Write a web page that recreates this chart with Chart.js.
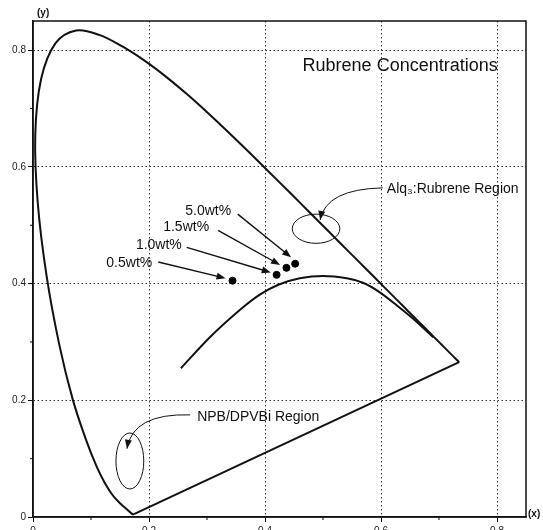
<!DOCTYPE html>
<html>
<head>
<meta charset="utf-8">
<script src="https://cdn.jsdelivr.net/npm/chart.js@4.4.0/dist/chart.umd.min.js"></script>
<style>
  html, body { margin: 0; padding: 0; background: #fff; }
</style>
</head>
<body>
<canvas id="cie" width="543" height="530"></canvas>
<script>
// spectral locus (CIE 1931), 380 nm -> 700 nm
const locusX = [0.1741, 0.1733, 0.1714, 0.1689, 0.1644, 0.1611,
  0.1566, 0.1510, 0.1440, 0.1355, 0.1241, 0.1096, 0.0913, 0.0687, 0.0454, 0.0235,
  0.0082, 0.0039, 0.0139, 0.0389, 0.0743, 0.1142, 0.1547, 0.1929, 0.2296, 0.2658,
  0.3016, 0.3373, 0.3731, 0.4087, 0.4441, 0.4788, 0.5125, 0.5448, 0.5752, 0.6029,
  0.6270, 0.6482, 0.6658, 0.6801, 0.6915, 0.7006, 0.7079, 0.7190, 0.7260, 0.7300,
  0.7347];
const locusY = [0.0050, 0.0048, 0.0051, 0.0069, 0.0109, 0.0138,
  0.0177, 0.0227, 0.0297, 0.0399, 0.0578, 0.0868, 0.1327, 0.2007, 0.2950, 0.4127,
  0.5384, 0.6548, 0.7502, 0.8120, 0.8338, 0.8262, 0.8059, 0.7816, 0.7543, 0.7243,
  0.6923, 0.6589, 0.6245, 0.5896, 0.5547, 0.5202, 0.4866, 0.4544, 0.4242, 0.3965,
  0.3725, 0.3514, 0.3340, 0.3197, 0.3083, 0.2993, 0.2920, 0.2809, 0.2740, 0.2700,
  0.2653];

// arc across the diagram
const arcX = [0.255, 0.305, 0.357, 0.391, 0.423, 0.460, 0.500, 0.541, 0.570, 0.598, 0.628, 0.655, 0.690];
const arcY = [0.255, 0.308, 0.355, 0.381, 0.398, 0.409, 0.413, 0.409, 0.401, 0.385, 0.362, 0.340, 0.308];

// measured colour coordinates for each rubrene concentration
const dopings = ['0.5wt%', '1.0wt%', '1.5wt%', '5.0wt%'];
const dotX = [0.344, 0.420, 0.437, 0.452];
const dotY = [0.405, 0.415, 0.427, 0.434];

const axisTicks = [0, 0.2, 0.4, 0.6, 0.8];
const minorTicks = [0.1, 0.3, 0.5, 0.7];

const title = 'Rubrene Concentrations';
const FONT = '"Liberation Sans", Arial, sans-serif';

// label anchors and arrow tails for the doping labels (data units)
const dopingLabelX = [0.166, 0.217, 0.264, 0.302];
const dopingLabelY = [0.435, 0.466, 0.497, 0.524];
const arrowTailX = [0.216, 0.265, 0.319, 0.353];
const arrowTailY = [0.437, 0.462, 0.491, 0.519];
const arrowTipX = [0.332, 0.410, 0.426, 0.445];
const arrowTipY = [0.409, 0.419, 0.432, 0.445];

// region callouts: ellipse centre/radii plus a curved pointer from the text
const regions = [
  { text: 'Alq\u2083:Rubrene Region', tx: 0.610, ty: 0.562,
    cx: 0.488, cy: 0.494, rx: 0.041, ry: 0.025,
    from: [0.603, 0.564], ctrl: [0.505, 0.562], to: [0.495, 0.509] },
  { text: 'NPB/DPVBi Region', tx: 0.283, ty: 0.171,
    cx: 0.167, cy: 0.096, rx: 0.024, ry: 0.048,
    from: [0.271, 0.175], ctrl: [0.172, 0.178], to: [0.162, 0.117] }
];

const locusPts = locusX.map((x, i) => ({ x: x, y: locusY[i] }));
// straight line of purples joining the two ends
const purplePts = [locusPts[locusPts.length - 1], locusPts[0]];
const arcPts = arcX.map((x, i) => ({ x: x, y: arcY[i] }));
const dotPts = dotX.map((x, i) => ({ x: x, y: dotY[i] }));

function arrowHead(ctx, x, y, ang, len, half) {
  const c = Math.cos(ang), s = Math.sin(ang);
  ctx.beginPath();
  ctx.moveTo(x, y);
  ctx.lineTo(x - len * c + half * s, y - len * s - half * c);
  ctx.lineTo(x - len * c - half * s, y - len * s + half * c);
  ctx.closePath();
  ctx.fill();
}

const decorations = {
  id: 'decorations',
  afterDatasetsDraw(chart) {
    const ctx = chart.ctx;
    const sx = chart.scales.x, sy = chart.scales.y;
    const X = v => sx.getPixelForValue(v);
    const Y = v => sy.getPixelForValue(v);
    const a = chart.chartArea;
    ctx.save();
    ctx.strokeStyle = '#111';
    ctx.fillStyle = '#111';

    // frame
    ctx.lineWidth = 1.5;
    ctx.strokeRect(a.left, a.top, a.right - a.left, a.bottom - a.top);

    // minor ticks
    ctx.lineWidth = 1;
    minorTicks.forEach(v => {
      ctx.beginPath();
      ctx.moveTo(a.left - 3, Y(v)); ctx.lineTo(a.left, Y(v));
      ctx.moveTo(X(v), a.bottom); ctx.lineTo(X(v), a.bottom + 3);
      ctx.stroke();
    });

    // axis names
    ctx.font = 'bold 10px ' + FONT;
    ctx.textBaseline = 'middle';
    ctx.textAlign = 'left';
    ctx.fillText('(y)', a.left + 4, a.top - 8);
    ctx.fillText('(x)', a.right + 2, a.bottom - 3);

    // title
    ctx.font = '18px ' + FONT;
    ctx.textAlign = 'center';
    ctx.fillText(title, X(0.633), Y(0.772));

    // doping labels with straight arrows
    ctx.font = '14px ' + FONT;
    ctx.lineWidth = 1.4;
    dopings.forEach((lab, i) => {
      ctx.fillText(lab, X(dopingLabelX[i]), Y(dopingLabelY[i]));
      const x0 = X(arrowTailX[i]), y0 = Y(arrowTailY[i]);
      const x1 = X(arrowTipX[i]), y1 = Y(arrowTipY[i]);
      const ang = Math.atan2(y1 - y0, x1 - x0);
      ctx.beginPath();
      ctx.moveTo(x0, y0);
      ctx.lineTo(x1 - 6 * Math.cos(ang), y1 - 6 * Math.sin(ang));
      ctx.stroke();
      arrowHead(ctx, x1, y1, ang, 9, 3.5);
    });

    // region callouts
    ctx.textAlign = 'left';
    regions.forEach(r => {
      ctx.lineWidth = 1;
      ctx.beginPath();
      ctx.ellipse(X(r.cx), Y(r.cy), X(r.cx + r.rx) - X(r.cx), Y(r.cy) - Y(r.cy + r.ry), 0, 0, Math.PI * 2);
      ctx.stroke();
      const fx = X(r.from[0]), fy = Y(r.from[1]);
      const cx = X(r.ctrl[0]), cy = Y(r.ctrl[1]);
      const tx = X(r.to[0]), ty = Y(r.to[1]);
      ctx.beginPath();
      ctx.moveTo(fx, fy);
      ctx.quadraticCurveTo(cx, cy, tx, ty);
      ctx.stroke();
      arrowHead(ctx, tx, ty, Math.atan2(ty - cy, tx - cx), 9, 3.5);
      ctx.fillText(r.text, X(r.tx), Y(r.ty));
    });
    ctx.restore();
  }
};

const gridColor = c => (c.tick && c.tick.value > 0 ? '#333' : 'rgba(0,0,0,0)');
const tickLabel = v => (v === 0 ? '0' : v.toFixed(1));

new Chart(document.getElementById('cie').getContext('2d'), {
  type: 'scatter',
  data: {
    datasets: [
      { data: locusPts, showLine: true, borderColor: '#111', borderWidth: 2, pointRadius: 0, tension: 0.35 },
      { data: purplePts, showLine: true, borderColor: '#111', borderWidth: 2, pointRadius: 0, tension: 0 },
      { data: arcPts, showLine: true, borderColor: '#111', borderWidth: 2, pointRadius: 0, tension: 0.3 },
      { data: dotPts, showLine: false, backgroundColor: '#000', borderColor: '#000', pointRadius: 3.5 }
    ]
  },
  options: {
    responsive: false,
    animation: false,
    layout: { padding: { top: 21, right: 17, left: 0, bottom: 0 } },
    plugins: { legend: { display: false }, tooltip: { enabled: false } },
    scales: {
      x: {
        type: 'linear', min: 0, max: 0.85,
        afterBuildTicks: s => { s.ticks = axisTicks.map(v => ({ value: v })); },
        afterFit: s => { s.height = 13; },
        ticks: { callback: tickLabel, autoSkip: false, maxRotation: 0, padding: 3, color: '#222', font: { size: 10, family: FONT } },
        grid: { color: gridColor, lineWidth: 1, tickLength: 5, tickColor: '#111' },
        border: { display: true, color: '#111', width: 1.5, dash: [1.5, 2.5] }
      },
      y: {
        type: 'linear', min: 0, max: 0.85,
        afterBuildTicks: s => { s.ticks = axisTicks.map(v => ({ value: v })); },
        afterFit: s => { s.width = 33; },
        ticks: { callback: tickLabel, autoSkip: false, padding: 2, color: '#222', font: { size: 10, family: FONT } },
        grid: { color: gridColor, lineWidth: 1, tickLength: 5, tickColor: '#111' },
        border: { display: true, color: '#111', width: 1.5, dash: [1.5, 2.5] }
      }
    }
  },
  plugins: [decorations]
});
</script>
</body>
</html>
